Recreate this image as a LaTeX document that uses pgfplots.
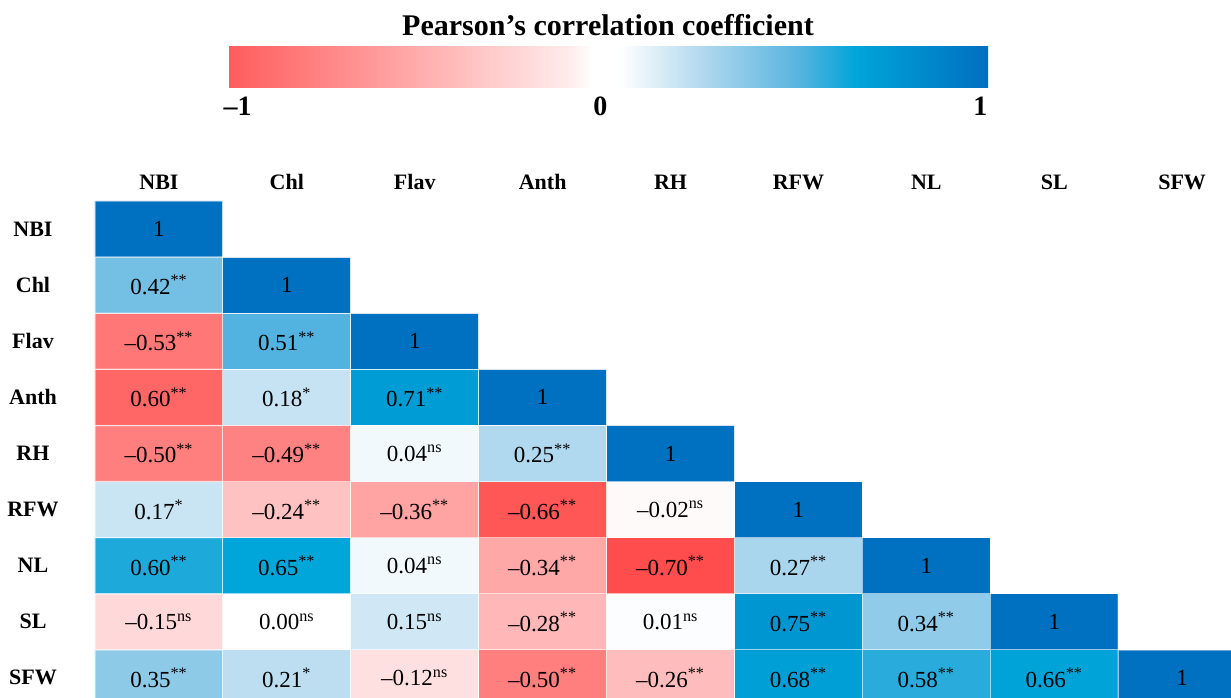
\documentclass[border=0pt]{standalone}
\usepackage{fontspec}
\setmainfont{Liberation Serif}
\usepackage{pgfplots}
\usepackage{pgfplotstable}
\pgfplotsset{compat=1.18}
\pgfplotstableread{
x y c
0 0 0.35
1 0 0.21
2 0 -0.12
3 0 -0.50
4 0 -0.26
5 0 0.68
6 0 0.58
7 0 0.66
8 0 1
0 1 -0.15
1 1 0.00
2 1 0.15
3 1 -0.28
4 1 0.01
5 1 0.75
6 1 0.34
7 1 1
8 1 0
0 2 0.60
1 2 0.65
2 2 0.04
3 2 -0.34
4 2 -0.70
5 2 0.27
6 2 1
7 2 0
8 2 0
0 3 0.17
1 3 -0.24
2 3 -0.36
3 3 -0.66
4 3 -0.02
5 3 1
6 3 0
7 3 0
8 3 0
0 4 -0.50
1 4 -0.49
2 4 0.04
3 4 0.25
4 4 1
5 4 0
6 4 0
7 4 0
8 4 0
0 5 -0.60
1 5 0.18
2 5 0.71
3 5 1
4 5 0
5 5 0
6 5 0
7 5 0
8 5 0
0 6 -0.53
1 6 0.51
2 6 1
3 6 0
4 6 0
5 6 0
6 6 0
7 6 0
8 6 0
0 7 0.42
1 7 1
2 7 0
3 7 0
4 7 0
5 7 0
6 7 0
7 7 0
8 7 0
0 8 1
1 8 0
2 8 0
3 8 0
4 8 0
5 8 0
6 8 0
7 8 0
8 8 0
}\corrmat
\pgfplotstableread{
x y label
0 8 1
0 7 0.42\textsuperscript{**}
1 7 1
0 6 –0.53\textsuperscript{**}
1 6 0.51\textsuperscript{**}
2 6 1
0 5 0.60\textsuperscript{**}
1 5 0.18\textsuperscript{*}
2 5 0.71\textsuperscript{**}
3 5 1
0 4 –0.50\textsuperscript{**}
1 4 –0.49\textsuperscript{**}
2 4 0.04\textsuperscript{ns}
3 4 0.25\textsuperscript{**}
4 4 1
0 3 0.17\textsuperscript{*}
1 3 –0.24\textsuperscript{**}
2 3 –0.36\textsuperscript{**}
3 3 –0.66\textsuperscript{**}
4 3 –0.02\textsuperscript{ns}
5 3 1
0 2 0.60\textsuperscript{**}
1 2 0.65\textsuperscript{**}
2 2 0.04\textsuperscript{ns}
3 2 –0.34\textsuperscript{**}
4 2 –0.70\textsuperscript{**}
5 2 0.27\textsuperscript{**}
6 2 1
0 1 –0.15\textsuperscript{ns}
1 1 0.00\textsuperscript{ns}
2 1 0.15\textsuperscript{ns}
3 1 –0.28\textsuperscript{**}
4 1 0.01\textsuperscript{ns}
5 1 0.75\textsuperscript{**}
6 1 0.34\textsuperscript{**}
7 1 1
0 0 0.35\textsuperscript{**}
1 0 0.21\textsuperscript{*}
2 0 –0.12\textsuperscript{ns}
3 0 –0.50\textsuperscript{**}
4 0 –0.26\textsuperscript{**}
5 0 0.68\textsuperscript{**}
6 0 0.58\textsuperscript{**}
7 0 0.66\textsuperscript{**}
8 0 1
}\corrlabels
\pgfplotsset{
  colormap={corr}{rgb255(0cm)=(255,0,0); rgb255(50cm)=(255,127,127); rgb255(100cm)=(255,255,255); rgb255(125cm)=(176,216,238); rgb255(150cm)=(88,180,224); rgb255(165cm)=(0,165,217); rgb255(200cm)=(0,112,192)},
  colormap={barmap}{rgb255(0cm)=(255,92,92); rgb255(50cm)=(255,172,172); rgb255(90cm)=(255,236,236); rgb255(96cm)=(255,255,255); rgb255(103cm)=(255,255,255); rgb255(125cm)=(176,216,238); rgb255(150cm)=(88,180,224); rgb255(165cm)=(0,165,217); rgb255(200cm)=(0,112,192)},
}
\begin{document}
\begin{tikzpicture}
\useasboundingbox (0,0) rectangle (615.5pt,348.5pt);
\begin{axis}[
  at={(47.5pt,0pt)}, anchor=south west,
  scale only axis, width=568pt, height=248pt,
  xmin=-0.5, xmax=8.382, ymin=-0.341, ymax=8.5,
  axis line style={draw=none}, tick style={draw=none},
  xtick={0,...,8}, xticklabels={NBI,Chl,Flav,Anth,RH,RFW,NL,SL,SFW},
  xticklabel pos=upper,
  xticklabel style={anchor=base, yshift=5.5pt, font=\bfseries\fontsize{11}{12}\selectfont},
  ytick={0,...,8}, yticklabels={SFW,SL,NL,RFW,RH,Anth,Flav,Chl,NBI},
  yticklabel style={anchor=center, xshift=-31pt, font=\bfseries\fontsize{11}{12}\selectfont},
  colormap name=corr, point meta min=-1, point meta max=1,
  colorbar horizontal,
  colorbar/width=20.5pt,
  colorbar style={
    colormap name=barmap,
    at={(parent axis.north west)}, anchor=south west,
    xshift=66.5pt, yshift=65.5pt,
    scale only axis, width=380pt, height=20.5pt,
    xtick={-0.975,-0.02,0.98}, xticklabels={–1,0,1},
    xticklabel pos=lower,
    xticklabel style={font=\bfseries\fontsize{14}{14}\selectfont, yshift=-1.5pt},
    tick style={draw=none}, axis line style={draw=none},
    title={Pearson’s correlation coefficient},
    title style={font=\bfseries\fontsize{15}{17}\selectfont, yshift=-4.5pt},
  },
]
\addplot[matrix plot*, mesh/cols=9, point meta=explicit, draw=white, draw opacity=0.6, line width=0.6pt] table[x=x, y=y, meta=c] {\corrmat};
\addplot[only marks, mark=none, point meta=explicit symbolic, nodes near coords, nodes near coords align=center,
  nodes near coords style={font=\fontsize{11.5}{13}\selectfont, text=black, anchor=center}] table[x=x, y=y, meta=label] {\corrlabels};
\end{axis}
\end{tikzpicture}
\end{document}
